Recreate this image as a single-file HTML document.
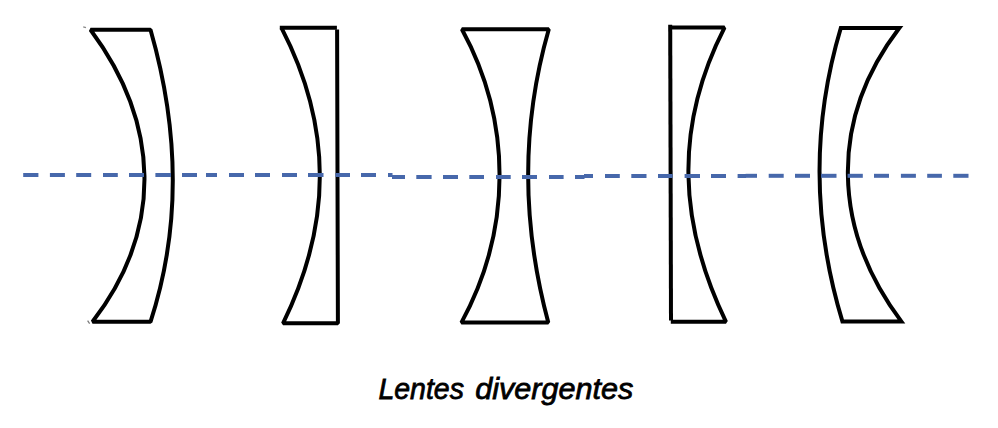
<!DOCTYPE html>
<html><head><meta charset="utf-8"><style>
html,body{margin:0;padding:0;background:#fff;}
body{width:998px;height:428px;position:relative;overflow:hidden;}
svg{position:absolute;left:0;top:0;display:block;}
</style></head><body>
<svg width="998" height="428" viewBox="0 0 998 428">
<g fill="none" stroke="#000" stroke-width="4" stroke-linejoin="bevel">
<path d="M 90.5 29.7 L 150.5 29.7 C 178.3 126.6 182.1 224.9 150.5 321.8 L 92.5 321.8 C 164.3 228.7 159.9 123.1 90.5 29.7 Z"/>
<path d="M 279.8 27.8 L 336.9 27.8"/>
<path d="M 337.1 29.4 L 337.9 323.3 L 283.0 323.3 C 331.9 224.0 332.8 126.9 281.5 27.8"/>
<path d="M 461.9 29.2 L 548.8 29.2 C 520.6 127.1 522.0 224.7 548.3 322.6 L 461.4 322.6 C 511.9 230.2 512.5 121.9 461.9 29.2 Z"/>
<path d="M 670.2 24.8 L 671 320.6"/>
<path d="M 670.2 27.6 L 724.5 27.6 C 674.0 126.3 678.3 223.0 726.0 321.8 L 670.8 321.8"/>
<path d="M 840.8 28.0 L 899.3 28.0 C 828.7 120.3 832.1 229.0 901.3 321.4 L 842.4 321.4 C 812.8 223.7 811.6 125.7 840.8 28.0 Z" stroke-linejoin="miter" stroke-miterlimit="3"/>
<path d="M 83.2 26.8 L 86 27.6" stroke="#888" stroke-width="1.2"/>
<path d="M 87.6 320.6 L 89.6 323.6" stroke="#777" stroke-width="1.2"/>
</g>
<g fill="#4768ab">
<rect x="23.2" y="173.0" width="15.2" height="4"/>
<rect x="49.9" y="173.0" width="15.0" height="4"/>
<rect x="76.2" y="173.0" width="15.0" height="4"/>
<rect x="103" y="173.0" width="14.8" height="4"/>
<rect x="129" y="173.0" width="15" height="4"/>
<rect x="155.4" y="173.0" width="15.6" height="4"/>
<rect x="182" y="173.0" width="15" height="4"/>
<rect x="206" y="173.0" width="11" height="4"/>
<rect x="229" y="173.0" width="15" height="4"/>
<rect x="255" y="173.0" width="15" height="4"/>
<rect x="282" y="173.0" width="15" height="4"/>
<rect x="308" y="173.0" width="15.5" height="4"/>
<rect x="335.5" y="173.0" width="14.5" height="4"/>
<rect x="361" y="173.0" width="15" height="4"/>
<rect x="388" y="173.0" width="4.5" height="4"/>
<rect x="392" y="175.0" width="13" height="4"/>
<rect x="416.3" y="175.0" width="15.3" height="4"/>
<rect x="443" y="175.0" width="15" height="4"/>
<rect x="469.3" y="175.0" width="14.7" height="4"/>
<rect x="496" y="175.0" width="14.7" height="4"/>
<rect x="522" y="175.0" width="15" height="4"/>
<rect x="549" y="175.0" width="14.6" height="4"/>
<rect x="575" y="175.0" width="9.5" height="4"/>
<rect x="584" y="174.0" width="9" height="4"/>
<rect x="605" y="174.0" width="14.8" height="4"/>
<rect x="631.3" y="174.0" width="15.2" height="4"/>
<rect x="658" y="174.0" width="14.6" height="4"/>
<rect x="684.6" y="174.0" width="15.4" height="4"/>
<rect x="711" y="174.0" width="15" height="4"/>
<rect x="737.6" y="174.0" width="8.5" height="4"/>
<rect x="745.6" y="173.8" width="11.4" height="4"/>
<rect x="768.7" y="173.8" width="15.0" height="4"/>
<rect x="795" y="173.8" width="15" height="4"/>
<rect x="821" y="173.8" width="15.5" height="4"/>
<rect x="847.6" y="173.8" width="15.2" height="4"/>
<rect x="874" y="173.8" width="15" height="4"/>
<rect x="900.9" y="173.8" width="15.0" height="4"/>
<rect x="927.2" y="173.8" width="14.7" height="4"/>
<rect x="953.3" y="173.8" width="15.2" height="4"/>
</g>
<g transform="translate(0 398.9) scale(1 0.97) translate(0 -398.9)" style='font-family:"Liberation Sans",sans-serif;font-style:italic' font-size="31" fill="#000" stroke="#000" stroke-width="0.8">
<text x="378.4" y="398.9" textLength="85.5" lengthAdjust="spacingAndGlyphs">Lentes</text>
<text x="475.2" y="398.9" textLength="158" lengthAdjust="spacingAndGlyphs">divergentes</text>
</g>
</svg>
</body></html>
